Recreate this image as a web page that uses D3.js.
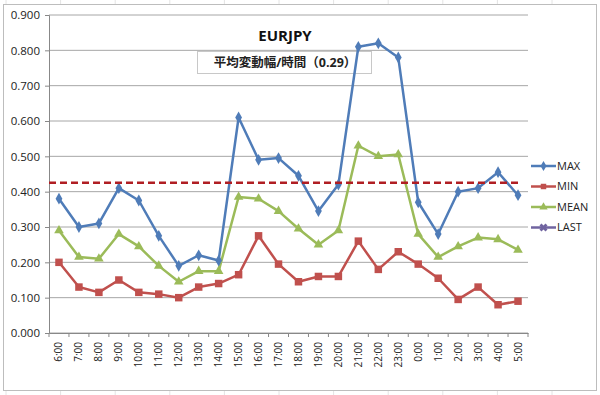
<!DOCTYPE html>
<html>
<head>
<meta charset="utf-8">
<script src="https://cdn.jsdelivr.net/npm/d3@7"></script>
<style>
  body { margin: 0; background: #fff; }
  text { font-family: "Open Sans", "Noto Sans CJK JP", sans-serif; }
</style>
</head>
<body>
<svg id="chart"></svg>
<script>
const width = 600
const height = 395

// hours on the x axis
const hours = ["6:00","7:00","8:00","9:00","10:00","11:00","12:00","13:00","14:00","15:00","16:00","17:00",
               "18:00","19:00","20:00","21:00","22:00","23:00","0:00","1:00","2:00","3:00","4:00","5:00"]
const maxValues  = [0.38,0.30,0.31,0.41,0.375,0.275,0.19,0.22,0.205,0.61,0.49,0.495,
                    0.445,0.345,0.42,0.81,0.82,0.78,0.37,0.28,0.40,0.41,0.455,0.39]
const minValues  = [0.20,0.13,0.115,0.15,0.115,0.11,0.10,0.13,0.14,0.165,0.275,0.195,
                    0.145,0.16,0.16,0.26,0.18,0.23,0.195,0.155,0.095,0.13,0.08,0.09]
const meanValues = [0.29,0.215,0.21,0.28,0.245,0.19,0.145,0.175,0.175,0.385,0.38,0.345,
                    0.295,0.25,0.29,0.53,0.50,0.505,0.28,0.215,0.245,0.27,0.265,0.235]
const yTicks = [0,0.1,0.2,0.3,0.4,0.5,0.6,0.7,0.8,0.9]
const refLevel = 0.425
const seriesNames = ["MAX","MIN","MEAN","LAST"]
const seriesColors = ["#4F7CB8","#C0504D","#9BBB59","#7064A0"]

const svg = d3.select("#chart").attr("width", width).attr("height", height)

// faint spreadsheet cells behind the chart
const cellX = d3.range(6, 600, 54.6)
svg.append("g").selectAll("line").data(cellX).enter().append("line")
   .attr("x1", d => d).attr("x2", d => d).attr("y1", 0).attr("y2", height)
   .style("stroke", "#e4e4e4")

svg.append("rect").attr("x", 3.5).attr("y", 4.5).attr("width", 593).attr("height", 386)
   .attr("fill", "#fff").style("stroke", "#bdbdbd")

const plot = { left: 49, right: 528, top: 15, bottom: 333 }

const x = d3.scaleBand().domain(hours).range([plot.left, plot.right])
const y = d3.scaleLinear().domain([0, 0.9]).range([plot.bottom, plot.top])

// gridlines
svg.append("g").selectAll("line").data(yTicks).enter().append("line")
   .attr("x1", plot.left).attr("x2", plot.right)
   .attr("y1", d => y(d)).attr("y2", d => y(d))
   .style("stroke", "#a6a6a6").style("stroke-width", 1)

// y axis
const yAxis = svg.append("g").attr("transform", `translate(${plot.left},0)`)
   .call(d3.axisLeft(y).tickValues(yTicks).tickFormat(d3.format(".3f")).tickSize(4))
yAxis.selectAll("text").style("font-size", "11.5px").attr("fill", "#222").attr("x", -9)
yAxis.selectAll("line,path").style("stroke", "#888")

// x axis
const xAxis = svg.append("g").attr("transform", `translate(0,${plot.bottom})`)
   .call(d3.axisBottom(x).tickSize(0))
xAxis.select(".domain").style("stroke", "#888")
xAxis.selectAll("text")
   .style("font-size", "10px").attr("fill", "#222")
   .attr("text-anchor", "end")
   .attr("transform", "rotate(-90)")
   .attr("x", -9).attr("y", 0).attr("dy", "0.35em")
svg.append("g").selectAll("line").data(d3.range(hours.length + 1)).enter().append("line")
   .attr("x1", i => plot.left + i * x.step()).attr("x2", i => plot.left + i * x.step())
   .attr("y1", plot.bottom).attr("y2", plot.bottom + 4)
   .style("stroke", "#888")

// title and subtitle box
svg.append("text").attr("x", 285).attr("y", 41).attr("text-anchor", "middle")
   .style("font-size", "15px").style("font-weight", "bold").attr("fill", "#111").text("EURJPY")
svg.append("rect").attr("x", 197.5).attr("y", 51.5).attr("width", 174).attr("height", 22)
   .attr("fill", "#fff").style("stroke", "#c8c8c8")
svg.append("text").attr("x", 285).attr("y", 67).attr("text-anchor", "middle")
   .style("font-size", "12.5px").style("font-weight", "bold").attr("fill", "#222")
   .text("平均変動幅/時間（0.29）")

const line = d3.line().x((d, i) => x(hours[i]) + x.bandwidth() / 2).y(d => y(d))

const drawSeries = (values, color, shape) => {
    svg.append("path").datum(values).attr("d", line)
       .attr("fill", "none").style("stroke", color).style("stroke-width", 2.5)
       .style("stroke-linejoin", "round")
    svg.append("g").selectAll("path").data(values).enter().append("path")
       .attr("d", d3.symbol().type(shape).size(shape === d3.symbolSquare ? 56 : 40))
       .attr("transform", (d, i) => `translate(${x(hours[i]) + x.bandwidth() / 2},${y(d)})`)
       .attr("fill", color)
}

drawSeries(meanValues, seriesColors[2], d3.symbolTriangle)
drawSeries(minValues, seriesColors[1], d3.symbolSquare)
drawSeries(maxValues, seriesColors[0], d3.symbolDiamond)

// reference dashed line
svg.append("line").attr("x1", plot.left).attr("x2", 522)
   .attr("y1", y(refLevel)).attr("y2", y(refLevel))
   .style("stroke", "#B01E23").style("stroke-width", 2.5).style("stroke-dasharray", "7,4")

// legend
const legendShapes = [d3.symbolDiamond, d3.symbolSquare, d3.symbolTriangle, d3.symbolCross]
const legend = svg.append("g").selectAll("g").data(seriesNames).enter().append("g")
   .attr("transform", (d, i) => `translate(531,${166 + i * 20.5})`)
legend.append("line").attr("x1", 0).attr("x2", 25)
   .style("stroke", (d, i) => seriesColors[i]).style("stroke-width", 2.5)
legend.append("path")
   .attr("d", (d, i) => d3.symbol().type(legendShapes[i]).size(i === 3 ? 40 : 30)())
   .attr("transform", (d, i) => `translate(12.5,0)` + (i === 3 ? " rotate(45)" : ""))
   .attr("fill", (d, i) => seriesColors[i])
legend.append("text").attr("x", 26).attr("dy", "0.35em")
   .style("font-size", "11px").attr("fill", "#222").text(d => d)
</script>
</body>
</html>
